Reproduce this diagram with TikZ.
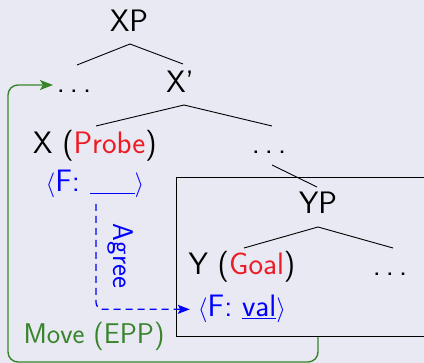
\documentclass[tikz,border=0pt]{standalone}
\usepackage{fontspec}
\usetikzlibrary{arrows.meta,calc}
\definecolor{bg}{RGB}{233,233,243}
\definecolor{probe}{RGB}{237,28,36}
\definecolor{agr}{RGB}{0,0,255}
\definecolor{mv}{RGB}{56,132,44}
\newcommand{\mydots}{.\kern5pt.\kern5pt.}
\begin{document}
\begin{tikzpicture}[x=1pt,y=-1pt,
  font=\sffamily\fontsize{31}{36}\selectfont,
  lbl/.style={anchor=base,inner sep=0pt},
  smalllbl/.style={font=\sffamily\fontsize{28.5}{33}\selectfont},
  branch/.style={draw=black,line width=0.9pt},
  agreeline/.style={draw=agr,line width=1.3pt,dash pattern=on 7pt off 5pt,rounded corners=7pt,
    -{Stealth[length=12pt,width=9pt,inset=2.5pt]}},
  moveline/.style={draw=mv,line width=1.4pt,rounded corners=10pt,
    -{Stealth[length=13pt,width=10pt,inset=3pt]}}]
\fill[bg] (0,0) rectangle (424,363);
\useasboundingbox (0,0) rectangle (424,363);

% box around YP
\node[draw=black,line width=1pt,minimum width=264pt,minimum height=159pt,
  anchor=north west,inner sep=0pt] (box) at (176,177) {};

% tree labels
\node[lbl] (XP) at (129,32) {XP};
\node[lbl] (dl) at (74,93) {\mydots};
\node[lbl] (Xb) at (180,93) {X'};
\node[lbl] (X) at (95,154) {X (\textcolor{probe}{Probe})};
\node[lbl] (dr) at (269,154) {\mydots};
\node[lbl,text=agr] (fx) at (95,192) {$\langle$F: \underline{\hspace{45pt}}$\rangle$};
\node[lbl] (YP) at (318,214) {YP};
\node[lbl] (Y) at (242,275) {Y (\textcolor{probe}{Goal})};
\node[lbl] (dy) at (390,276) {\mydots};
\node[lbl,text=agr] (fy) at (242,317) {$\langle$F: \underline{val}$\rangle$};
\node[smalllbl,text=agr,rotate=-90,inner sep=0pt] (agree) at (120,256) {Agree};
\node[lbl,smalllbl,text=mv] (move) at (94,344) {Move (EPP)};

% branches
\draw[branch] ($(XP.base)+(1,12)$) -- ($(dl.base)+(3,-28)$);
\draw[branch] ($(XP.base)+(1,12)$) -- ($(Xb.base)+(3,-29)$);
\draw[branch] ($(Xb.base)+(4,12)$) -- ($(X.base)+(1,-28)$);
\draw[branch] ($(Xb.base)+(4,12)$) -- ($(dr.base)+(3,-28)$);
\draw[branch] ($(dr.base)+(3,11)$) -- ($(YP.base)+(-1,-27)$);
\draw[branch] ($(YP.base)+(0,13)$) -- ($(Y.base)+(2,-27)$);
\draw[branch] ($(YP.base)+(0,13)$) -- ($(dy.base)+(3,-28)$);

% Agree
\draw[agreeline] ($(fx.base)+(1,12)$) |- ([xshift=-8pt]fy.west);

% Move
\draw[moveline] ($(box.south west)+(142,0)$) -- ++(0,25) -| (8,85) -- ($(dl.base)+(-21,-8)$);
\end{tikzpicture}
\end{document}
